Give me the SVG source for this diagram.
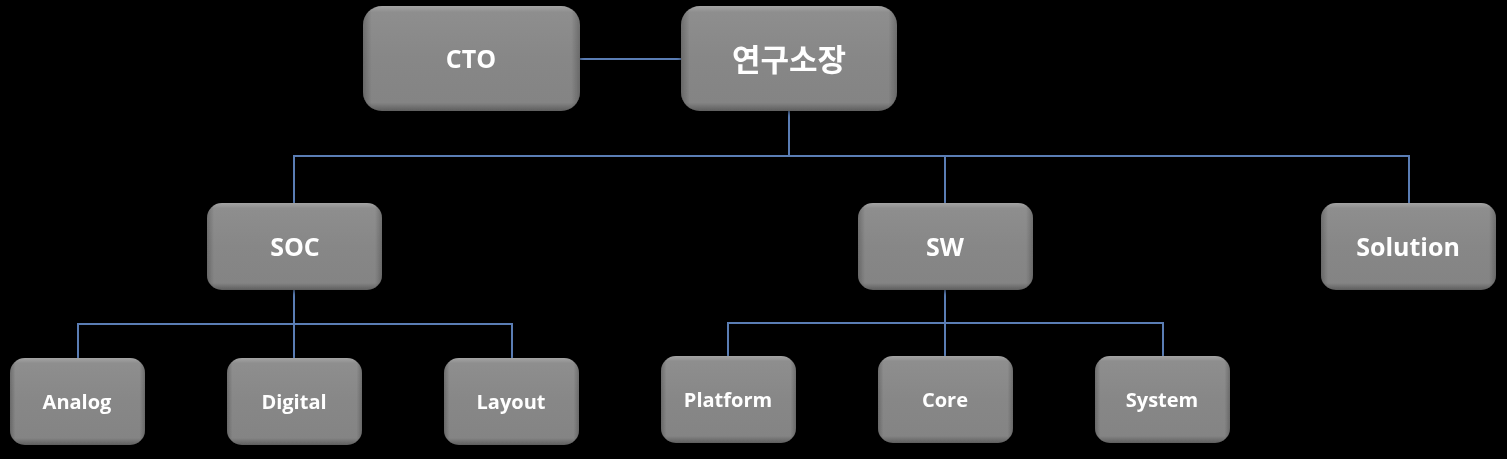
<svg xmlns="http://www.w3.org/2000/svg" width="1507" height="459" viewBox="0 0 1507 459">
  <defs>
    <linearGradient id="gv" x1="0" y1="0" x2="0" y2="1">
      <stop offset="0" stop-color="#a4a4a4"/>
      <stop offset="0.06" stop-color="#8e8e8e"/>
      <stop offset="0.5" stop-color="#878787"/>
      <stop offset="0.92" stop-color="#848484"/>
      <stop offset="1" stop-color="#5e5e5e"/>
    </linearGradient>
    <linearGradient id="gh" x1="0" y1="0" x2="1" y2="0">
      <stop offset="0" stop-color="#000" stop-opacity="0.22"/>
      <stop offset="0.04" stop-color="#000" stop-opacity="0"/>
      <stop offset="0.96" stop-color="#000" stop-opacity="0"/>
      <stop offset="1" stop-color="#000" stop-opacity="0.22"/>
    </linearGradient>
    <filter id="sh" x="-10%" y="-10%" width="120%" height="130%">
      <feGaussianBlur in="SourceAlpha" stdDeviation="2"/>
      <feOffset dy="2" result="b"/>
      <feFlood flood-color="#000" flood-opacity="0.6"/>
      <feComposite in2="b" operator="in"/>
      <feMerge><feMergeNode/><feMergeNode in="SourceGraphic"/></feMerge>
    </filter>
  </defs>
  <style>
    .box { fill: url(#gv); }
    .edge { fill: url(#gh); }
    .lbl { fill: #ffffff; font-family: "Open Sans", "Noto Sans", "Liberation Sans", sans-serif; font-weight: bold; text-anchor: middle; dominant-baseline: central; }
    .ko { font-family: "Noto Sans CJK KR", "Noto Sans", sans-serif; font-size: 31px; }
    .l1 { font-size: 25px; }
    .l3 { font-size: 20px; }
    .conn { stroke: #5a7db4; stroke-width: 2; fill: none; }
  </style>
  <rect x="0" y="0" width="1507" height="459" fill="#000"/>

  <g id="connectors">
    <line class="conn" x1="580" y1="59" x2="681" y2="59"/>
    <polyline class="conn" points="789,111 789,156"/>
    <polyline class="conn" points="294,203 294,156 1409,156 1409,203"/>
    <line class="conn" x1="945" y1="156" x2="945" y2="203"/>
    <polyline class="conn" points="78,358 78,324 512,324 512,358"/>
    <line class="conn" x1="294" y1="290" x2="294" y2="358"/>
    <polyline class="conn" points="728,356 728,323 1163,323 1163,356"/>
    <line class="conn" x1="945" y1="290" x2="945" y2="356"/>
  </g>

  <g id="cto" filter="url(#sh)">
    <rect class="box" x="363" y="6" width="217" height="105" rx="19"/>
    <rect class="edge" x="363" y="6" width="217" height="105" rx="19"/>
    <text class="lbl l1" x="471" y="58">CTO</text>
  </g>
  <g id="director" filter="url(#sh)">
    <rect class="box" x="681" y="6" width="216" height="105" rx="19"/>
    <rect class="edge" x="681" y="6" width="216" height="105" rx="19"/>
    <text class="lbl ko" x="789" y="57">연구소장</text>
  </g>

  <g id="soc" filter="url(#sh)">
    <rect class="box" x="207" y="203" width="175" height="87" rx="15"/>
    <rect class="edge" x="207" y="203" width="175" height="87" rx="15"/>
    <text class="lbl l1" x="295" y="246">SOC</text>
  </g>
  <g id="sw" filter="url(#sh)">
    <rect class="box" x="858" y="203" width="175" height="87" rx="15"/>
    <rect class="edge" x="858" y="203" width="175" height="87" rx="15"/>
    <text class="lbl l1" x="945" y="246">SW</text>
  </g>
  <g id="solution" filter="url(#sh)">
    <rect class="box" x="1321" y="203" width="175" height="87" rx="15"/>
    <rect class="edge" x="1321" y="203" width="175" height="87" rx="15"/>
    <text class="lbl l1" x="1408" y="246">Solution</text>
  </g>

  <g id="analog" filter="url(#sh)">
    <rect class="box" x="10" y="358" width="135" height="87" rx="15"/>
    <rect class="edge" x="10" y="358" width="135" height="87" rx="15"/>
    <text class="lbl l3" x="77" y="401">Analog</text>
  </g>
  <g id="digital" filter="url(#sh)">
    <rect class="box" x="227" y="358" width="135" height="87" rx="15"/>
    <rect class="edge" x="227" y="358" width="135" height="87" rx="15"/>
    <text class="lbl l3" x="294" y="401">Digital</text>
  </g>
  <g id="layout" filter="url(#sh)">
    <rect class="box" x="444" y="358" width="135" height="87" rx="15"/>
    <rect class="edge" x="444" y="358" width="135" height="87" rx="15"/>
    <text class="lbl l3" x="511" y="401">Layout</text>
  </g>

  <g id="platform" filter="url(#sh)">
    <rect class="box" x="661" y="356" width="135" height="87" rx="15"/>
    <rect class="edge" x="661" y="356" width="135" height="87" rx="15"/>
    <text class="lbl l3" x="728" y="399">Platform</text>
  </g>
  <g id="core" filter="url(#sh)">
    <rect class="box" x="878" y="356" width="135" height="87" rx="15"/>
    <rect class="edge" x="878" y="356" width="135" height="87" rx="15"/>
    <text class="lbl l3" x="945" y="399">Core</text>
  </g>
  <g id="system" filter="url(#sh)">
    <rect class="box" x="1095" y="356" width="135" height="87" rx="15"/>
    <rect class="edge" x="1095" y="356" width="135" height="87" rx="15"/>
    <text class="lbl l3" x="1162" y="399">System</text>
  </g>
</svg>
